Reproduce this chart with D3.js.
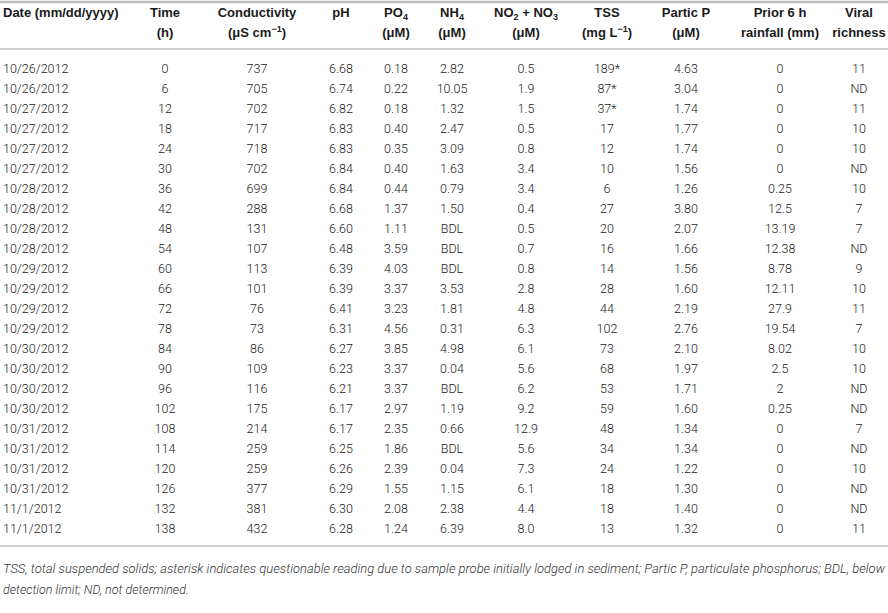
<!DOCTYPE html>
<html>
<head>
<meta charset="utf-8">
<script src="https://cdn.jsdelivr.net/npm/d3@7/dist/d3.min.js"></script>
<style>
  html, body { margin: 0; padding: 0; background: #fff; }
  svg { display: block; }
  .hd { font-family: "Liberation Sans", Arial, sans-serif; font-weight: bold; font-size: 13px; fill: #1a1a1a; }
  .cell { font-family: Roboto, "Liberation Sans", sans-serif; font-weight: 300; font-size: 12.5px; fill: #222; }
  .note { font-family: Roboto, "Liberation Sans", sans-serif; font-weight: 300; font-style: italic; font-size: 12.5px; fill: #333; }
</style>
</head>
<body>
<script>
// ---- data ----
const dates = ["10/26/2012","10/26/2012","10/27/2012","10/27/2012","10/27/2012","10/27/2012",
  "10/28/2012","10/28/2012","10/28/2012","10/28/2012","10/29/2012","10/29/2012","10/29/2012","10/29/2012",
  "10/30/2012","10/30/2012","10/30/2012","10/30/2012","10/31/2012","10/31/2012","10/31/2012","10/31/2012",
  "11/1/2012","11/1/2012"];
const timeH = ["0","6","12","18","24","30","36","42","48","54","60","66","72","78","84","90","96","102","108","114","120","126","132","138"];
const conductivity = ["737","705","702","717","718","702","699","288","131","107","113","101","76","73","86","109","116","175","214","259","259","377","381","432"];
const pH = ["6.68","6.74","6.82","6.83","6.83","6.84","6.84","6.68","6.60","6.48","6.39","6.39","6.41","6.31","6.27","6.23","6.21","6.17","6.17","6.25","6.26","6.29","6.30","6.28"];
const po4 = ["0.18","0.22","0.18","0.40","0.35","0.40","0.44","1.37","1.11","3.59","4.03","3.37","3.23","4.56","3.85","3.37","3.37","2.97","2.35","1.86","2.39","1.55","2.08","1.24"];
const nh4 = ["2.82","10.05","1.32","2.47","3.09","1.63","0.79","1.50","BDL","BDL","BDL","3.53","1.81","0.31","4.98","0.04","BDL","1.19","0.66","BDL","0.04","1.15","2.38","6.39"];
const no2no3 = ["0.5","1.9","1.5","0.5","0.8","3.4","3.4","0.4","0.5","0.7","0.8","2.8","4.8","6.3","6.1","5.6","6.2","9.2","12.9","5.6","7.3","6.1","4.4","8.0"];
const tss = ["189*","87*","37*","17","12","10","6","27","20","16","14","28","44","102","73","68","53","59","48","34","24","18","18","13"];
const particP = ["4.63","3.04","1.74","1.77","1.74","1.56","1.26","3.80","2.07","1.66","1.56","1.60","2.19","2.76","2.10","1.97","1.71","1.60","1.34","1.34","1.22","1.30","1.40","1.32"];
const rainfall = ["0","0","0","0","0","0","0.25","12.5","13.19","12.38","8.78","12.11","27.9","19.54","8.02","2.5","2","0.25","0","0","0","0","0","0"];
const viral = ["11","ND","11","10","10","ND","10","7","7","ND","9","10","11","7","10","10","ND","ND","7","ND","10","ND","ND","11"];

const columnKeys = ["date","time","cond","ph","po4","nh4","no","tss","pp","rain","viral"];
const columnData = [dates, timeH, conductivity, pH, po4, nh4, no2no3, tss, particP, rainfall, viral];

// header text: segments per line (kind: n normal, sub, sup)
const headerLines = [
  [[["Date (mm/dd/yyyy)","n"]], []],
  [[["Time","n"]], [["(h)","n"]]],
  [[["Conductivity","n"]], [["(μS cm","n"],["−1","sup"],[")","n"]]],
  [[["pH","n"]], []],
  [[["PO","n"],["4","sub"]], [["(μM)","n"]]],
  [[["NH","n"],["4","sub"]], [["(μM)","n"]]],
  [[["NO","n"],["2","sub"],[" + NO","n"],["3","sub"]], [["(μM)","n"]]],
  [[["TSS","n"]], [["(mg L","n"],["−1","sup"],[")","n"]]],
  [[["Partic P","n"]], [["(μM)","n"]]],
  [[["Prior 6 h","n"]], [["rainfall (mm)","n"]]],
  [[["Viral","n"]], [["richness","n"]]]
];

const footLines = [
  "TSS, total suspended solids; asterisk indicates questionable reading due to sample probe initially lodged in sediment; Partic P, particulate phosphorus; BDL, below",
  "detection limit; ND, not determined."
];

// ---- layout ----
const W = 888, H = 613;
const svg = d3.select("body").append("svg").attr("width", W).attr("height", H);

const xCol = d3.scaleOrdinal().domain(columnKeys)
  .range([3, 165, 257, 341, 396, 452, 526, 607, 686, 780, 859]);
const anchorCol = d3.scaleOrdinal().domain(columnKeys)
  .range(["start","middle","middle","middle","middle","middle","middle","middle","middle","middle","middle"]);

const yRow = d3.scaleBand().domain(d3.range(dates.length)).range([58, 538]);
const yHead = d3.scaleBand().domain([0,1]).range([2, 42]);

const ruleColor = "#bdbdbd";
const rules = [2, 49, 546];
svg.selectAll("line.rule").data(rules).join("line")
  .attr("class","rule")
  .attr("x1", 0).attr("x2", W)
  .attr("y1", d => d).attr("y2", d => d)
  .attr("stroke", ruleColor).attr("stroke-width", d => d === 2 ? 2.5 : 1.6);

// header
const hg = svg.append("g");
headerLines.forEach((lines, ci) => {
  const key = columnKeys[ci];
  lines.forEach((segs, li) => {
    if (!segs.length) return;
    const t = hg.append("text").attr("class","hd")
      .attr("x", xCol(key))
      .attr("y", yHead(li) + yHead.bandwidth()/2 + 4.6)
      .attr("text-anchor", anchorCol(key));
    let prevKind = null;
    segs.forEach(([txt, kind]) => {
      const ts = t.append("tspan").text(txt);
      if (kind === "sub") ts.attr("font-size", "9px").attr("dy", 3);
      if (kind === "sup") ts.attr("font-size", "9px").attr("dy", -5);
      if (kind === "n" && prevKind === "sub") ts.attr("dy", -3);
      if (kind === "n" && prevKind === "sup") ts.attr("dy", 5);
      prevKind = kind;
    });
  });
});

// body cells
const bg = svg.append("g");
columnData.forEach((arr, ci) => {
  const key = columnKeys[ci];
  bg.selectAll(null).data(arr).join("text")
    .attr("class","cell")
    .attr("x", xCol(key))
    .attr("y", (d, i) => yRow(i) + yRow.bandwidth()/2 + 4.5)
    .attr("text-anchor", anchorCol(key))
    .text(d => d);
});

// footnote
const yFoot = d3.scalePoint().domain([0,1]).range([573, 594]);
svg.selectAll("text.note").data(footLines).join("text")
  .attr("class","note")
  .attr("x", 3)
  .attr("y", (d, i) => yFoot(i))
  .attr("textLength", (d, i) => i === 0 ? 882 : null)
  .attr("lengthAdjust", "spacingAndGlyphs")
  .text(d => d);
</script>
</body>
</html>
